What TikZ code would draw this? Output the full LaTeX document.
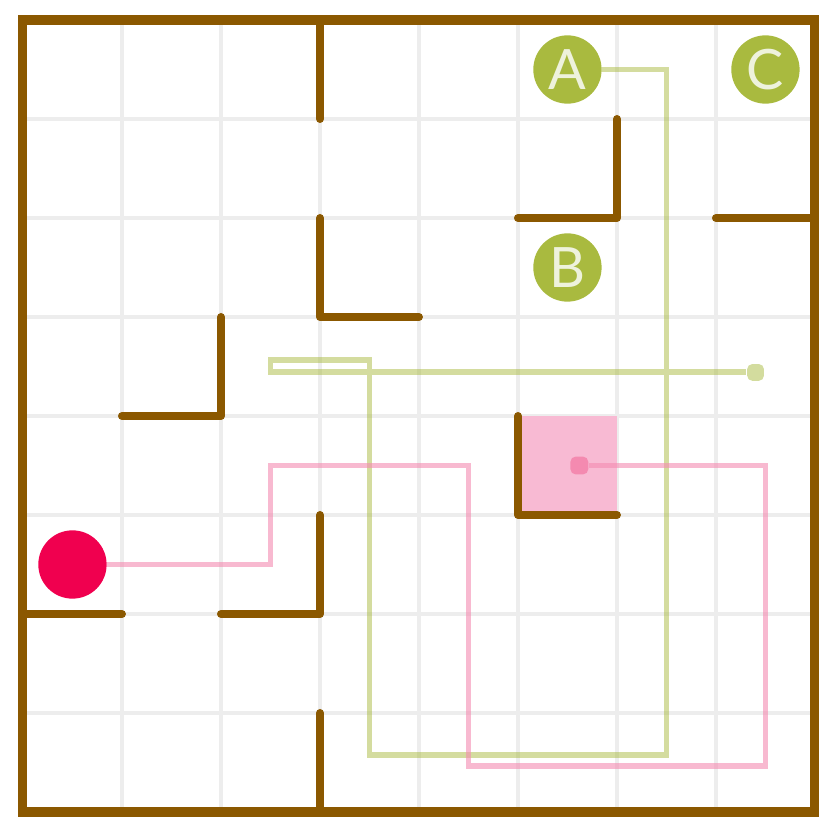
\documentclass[tikz,border=0pt]{standalone}
\usepackage{fontspec}
\setmainfont{Lato}
\definecolor{wallbrown}{HTML}{8B5800}
\definecolor{gridgray}{HTML}{EDEDED}
\definecolor{olive}{HTML}{A9BA3F}
\definecolor{oliveline}{HTML}{D3DC9E}
\definecolor{hotpink}{HTML}{F0004F}
\definecolor{pinkbox}{HTML}{F8BAD3}
\definecolor{pinkdot}{HTML}{F48AB0}
\definecolor{lettercol}{HTML}{EEF2DC}
\begin{document}
\begin{tikzpicture}[
  wall/.style={line width=2.3pt, wallbrown, line cap=round, line join=round},
  goal/.style={circle, fill=olive, minimum size=0.69cm, inner sep=0pt,
    text=lettercol, font=\fontsize{16}{16}\selectfont},
  marker/.style={rounded corners=1.5pt, minimum size=0.17cm, inner sep=0pt},
  route/.style={line width=1.7pt}
]
  \useasboundingbox (-0.232,-0.273) rectangle (8.253,8.202);

  % grid
  \foreach \i in {1,...,7} {
    \draw[gridgray, line width=1.1pt] (\i,0) -- (\i,8);
    \draw[gridgray, line width=1.1pt] (0,\i) -- (8,\i);
  }

  % goal cell
  \fill[pinkbox] (5,3) rectangle (6,4);

  % goals and start
  \node[goal] (A) at (5.5,7.5) {A};
  \node[goal] (B) at (5.5,5.5) {B};
  \node[goal] (C) at (7.5,7.5) {C};
  \node[circle, fill=hotpink, minimum size=0.69cm, inner sep=0pt] (start) at (0.5,2.5) {};

  % end markers
  \node[marker, fill=oliveline] (gend) at (7.4,4.44) {};
  \node[marker, fill=pinkdot, minimum size=0.18cm] (pend) at (5.62,3.5) {};

  % route from A
  \draw[route, olive, opacity=0.5] (A) -- (6.5,7.5) -- (6.5,0.58) -- (3.5,0.58)
    -- (3.5,4.57) -- (2.5,4.57) -- (2.5,4.44) -- (gend);

  % route from start
  \draw[route, pinkdot, opacity=0.6] (start) -- (2.5,2.5) -- (2.5,3.5) -- (4.5,3.5)
    -- (4.5,0.46) -- (7.5,0.46) -- (7.5,3.5) -- (pend);

  % walls
  \draw[wall] (3,8) -- (3,7);
  \draw[wall] (6,7) -- (6,6) -- (5,6);
  \draw[wall] (7,6) -- (8,6);
  \draw[wall] (3,6) -- (3,5) -- (4,5);
  \draw[wall] (2,5) -- (2,4) -- (1,4);
  \draw[wall] (5,4) -- (5,3) -- (6,3);
  \draw[wall] (3,3) -- (3,2) -- (2,2);
  \draw[wall] (0,2) -- (1,2);
  \draw[wall] (3,1) -- (3,0);
  \draw[wall, line width=2.6pt, line cap=butt, line join=miter] (0,0) rectangle (8,8);
\end{tikzpicture}
\end{document}
